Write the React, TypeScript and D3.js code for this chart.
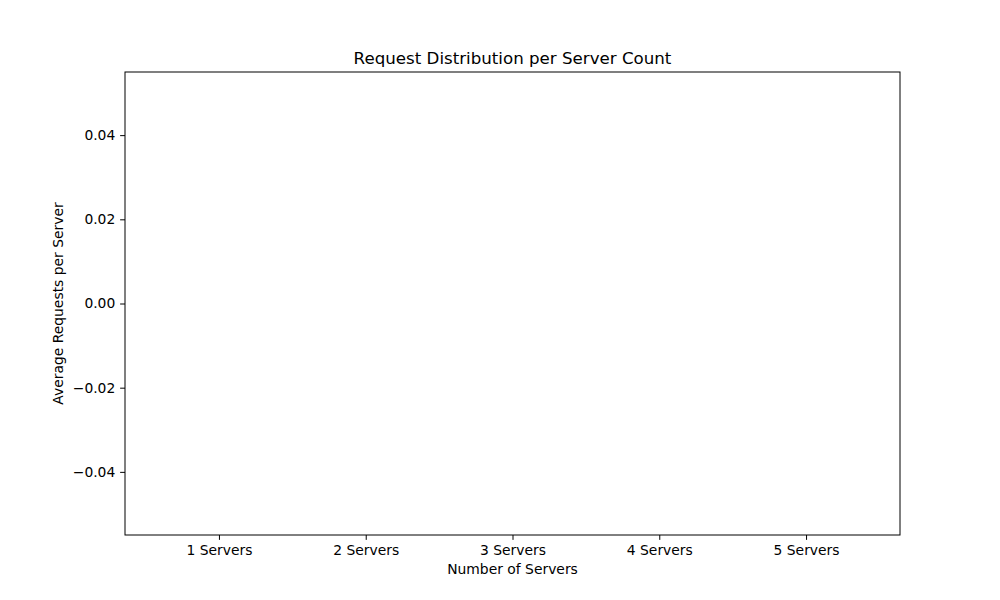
import React, { useRef, useEffect } from "react";
import * as d3 from "d3";

const categories = ["1 Servers", "2 Servers", "3 Servers", "4 Servers", "5 Servers"];
const avgRequests = [0, 0, 0, 0, 0];
const yTicks = [-0.04, -0.02, 0.0, 0.02, 0.04];

export default function App() {
  const svgRef = useRef<SVGSVGElement>(null);

  useEffect(() => {
    const width = 1000;
    const height = 600;
    const margin = { top: 72, right: 100, bottom: 65, left: 125 };
    const font = "DejaVu Sans, sans-serif";
    const small = 13.89; // 10pt at 100dpi
    const big = 16.67; // 12pt

    const svg = d3.select(svgRef.current);
    svg.selectAll("*").remove();
    svg.attr("width", width).attr("height", height);

    svg.append("rect").attr("width", width).attr("height", height).attr("fill", "white");

    // matplotlib-style categorical axis: bars 0.8 wide, 5% margins
    const n = categories.length;
    const pad = 0.4 + 0.05 * (n - 1 + 0.8);
    const x = d3
      .scaleLinear()
      .domain([-pad, n - 1 + pad])
      .range([margin.left, width - margin.right]);

    const y = d3
      .scaleLinear()
      .domain([-0.055, 0.055])
      .range([height - margin.bottom, margin.top]);

    // bars (zero height here)
    svg
      .selectAll("rect.bar")
      .data(avgRequests)
      .enter()
      .append("rect")
      .attr("class", "bar")
      .attr("x", (_, i) => x(i - 0.4))
      .attr("width", x(0.8) - x(0))
      .attr("y", (d) => y(Math.max(0, d)))
      .attr("height", (d) => Math.abs(y(d) - y(0)))
      .attr("fill", "#1f77b4");

    const xAxis = d3
      .axisBottom(x)
      .tickValues(d3.range(n))
      .tickFormat((d) => categories[d as number])
      .tickSize(4.86)
      .tickPadding(4.86);

    const yAxis = d3
      .axisLeft(y)
      .tickValues(yTicks)
      .tickFormat((d) => d3.format(".2f")(d as number).replace("-", "\u2212"))
      .tickSize(4.86)
      .tickPadding(4.86);

    const gx = svg
      .append("g")
      .attr("transform", `translate(0,${height - margin.bottom})`)
      .call(xAxis);
    const gy = svg.append("g").attr("transform", `translate(${margin.left},0)`).call(yAxis);

    [gx, gy].forEach((g) => {
      g.select(".domain").remove();
      g.selectAll("text").attr("font-family", font).attr("font-size", small).attr("fill", "black");
      g.selectAll("line").attr("stroke", "black").attr("stroke-width", 1);
    });

    // frame
    svg
      .append("rect")
      .attr("x", margin.left)
      .attr("y", margin.top)
      .attr("width", width - margin.left - margin.right)
      .attr("height", height - margin.top - margin.bottom)
      .attr("fill", "none")
      .attr("stroke", "black")
      .attr("stroke-width", 1);

    svg
      .append("text")
      .attr("x", (margin.left + width - margin.right) / 2)
      .attr("y", margin.top - 8)
      .attr("text-anchor", "middle")
      .attr("font-family", font)
      .attr("font-size", big)
      .text("Request Distribution per Server Count");

    svg
      .append("text")
      .attr("x", (margin.left + width - margin.right) / 2)
      .attr("y", 574)
      .attr("text-anchor", "middle")
      .attr("font-family", font)
      .attr("font-size", small)
      .text("Number of Servers");

    svg
      .append("text")
      .attr("transform", `translate(63,${(margin.top + height - margin.bottom) / 2}) rotate(-90)`)
      .attr("text-anchor", "middle")
      .attr("font-family", font)
      .attr("font-size", small)
      .text("Average Requests per Server");
  }, []);

  return (
    <svg ref={svgRef} style={{ position: "absolute", left: 0, top: 0, display: "block" }}></svg>
  );
}
